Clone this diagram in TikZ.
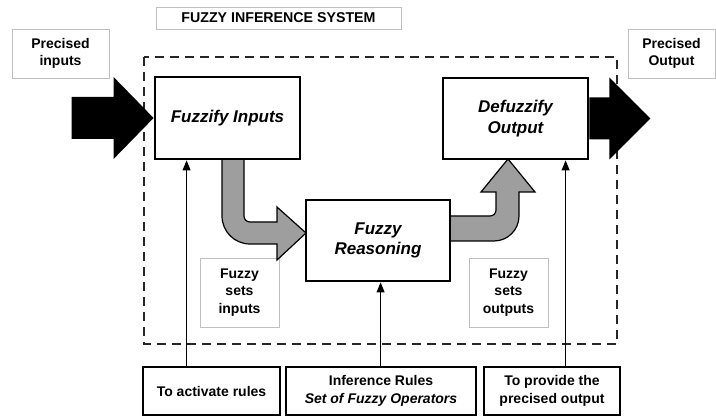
\documentclass[tikz,border=0pt]{standalone}
\usepackage{fontspec}
\setmainfont{Liberation Sans}
\usetikzlibrary{arrows.meta,calc}
\begin{document}
\begin{tikzpicture}[x=1pt,y=-1pt,
  mainbox/.style={draw=black,line width=2.8pt,fill=white,inner sep=0pt,align=center,
    font=\bfseries\itshape\fontsize{17}{20.5}\selectfont},
  botbox/.style={draw=black,line width=2.8pt,fill=white,inner sep=0pt,align=center,
    minimum height=48pt,font=\bfseries\fontsize{14}{18}\selectfont},
  lightbox/.style={draw=black!25,line width=0.8pt,fill=white,inner sep=0pt,align=center,
    font=\bfseries\fontsize{14}{17.5}\selectfont},
  thinarrow/.style={draw=black,line width=0.9pt,-{Triangle[length=10pt,width=8pt]}},
  grayarrow/.style={fill=black!38,draw=black,line width=1.2pt,line join=miter},
  bigarrow/.style={fill=black},
  dashbox/.style={draw=black!85,line width=1.3pt,dash pattern=on 9pt off 6pt}
]
\useasboundingbox (0,0) rectangle (716,417);

% dashed system boundary
\draw[dashbox] (144,57) rectangle (617,344);

% light label boxes
\node[lightbox,minimum width=245pt,minimum height=22pt,font=\bfseries\fontsize{14.2}{16}\selectfont] (title) at (278.5,18) {FUZZY INFERENCE SYSTEM};
\node[lightbox,minimum width=97pt,minimum height=49pt] (pin) at (60.5,53.5) {Precised\\inputs};
\node[lightbox,minimum width=87pt,minimum height=49pt] (pout) at (671.5,53.5) {Precised\\Output};
\node[lightbox,minimum width=79pt,minimum height=69pt] (fsi) at (239.5,292.5) {Fuzzy\\sets\\inputs};
\node[lightbox,minimum width=79pt,minimum height=69pt] (fso) at (508.5,292.5) {Fuzzy\\sets\\outputs};

% gray flow arrows
\draw[grayarrow] (222,159) -- (222,216) .. controls (222,231.5) and (234.5,244) .. (250,244)
  -- (277,244) -- (277,260) -- (306,233) -- (277,207) -- (277,222) -- (250,222)
  .. controls (246.7,222) and (244,219.3) .. (244,216) -- (244,159) -- cycle;
\draw[grayarrow] (450,216) -- (490,216) .. controls (493.3,216) and (496,213.3) .. (496,210)
  -- (496,192) -- (481,192) -- (508,159) -- (535,192) -- (519,192) -- (519,216)
  .. controls (519,229.8) and (507.8,241) .. (494,241) -- (450,241) -- cycle;

% main process boxes
\node[mainbox,minimum width=145pt,minimum height=82pt] (fuzzify) at (227.5,118) {Fuzzify Inputs};
\node[mainbox,minimum width=145pt,minimum height=81pt] (defuzz) at (515.5,118.5) {Defuzzify\\Output};
\node[mainbox,minimum width=144pt,minimum height=81pt] (reason) at (378,240.5) {Fuzzy\\Reasoning};

% big black arrows
\fill[bigarrow] (fuzzify.west) -- ++(-40,-41) -- ++(0,20) -- ++(-42,0) -- ++(0,42)
  -- ++(42,0) -- ++(0,20) -- cycle;
\fill[bigarrow] (defuzz.east) ++(0,-21) -- ++(20,0) -- ++(0,-20) -- ++(41,41)
  -- ++(-41,41) -- ++(0,-20) -- ++(-20,0) -- cycle;

% bottom boxes
\node[botbox,minimum width=137pt] (b1) at (211.5,391) {To activate rules};
\node[botbox,minimum width=190pt] (b2) at (381,391) {Inference Rules\\\textit{Set of Fuzzy Operators}};
\node[botbox,minimum width=136pt] (b3) at (552,391) {To provide the\\precised output};

% thin arrows
\draw[thinarrow] ([xshift=45pt]b1.north west) -- ([xshift=45pt]b1.north west |- fuzzify.south);
\draw[thinarrow] ([xshift=96pt]b2.north west) -- ([xshift=96pt]b2.north west |- reason.south);
\draw[thinarrow] ([xshift=83pt]b3.north west) -- ([xshift=83pt]b3.north west |- defuzz.south);
\end{tikzpicture}
\end{document}
